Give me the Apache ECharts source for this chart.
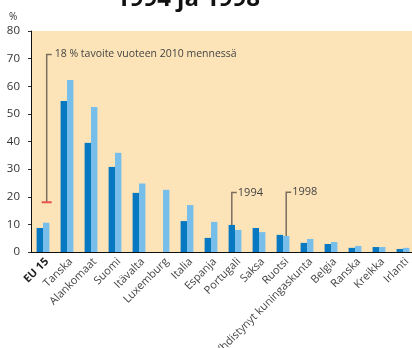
<!DOCTYPE html>
<html>
<head>
<meta charset="utf-8">
<script src="https://cdn.jsdelivr.net/npm/echarts@6/dist/echarts.min.js"></script>
<style>
html,body{margin:0;padding:0;background:#fff;}
#c{width:412px;height:348px;}
</style>
</head>
<body>
<div id="c"></div>
<script>
const categories = ['EU 15','Tanska','Alankomaat','Suomi','Itävalta','Luxemburg','Italia','Espanja','Portugali','Saksa','Ruotsi','Yhdistynyt kuningaskunta','Belgia','Ranska','Kreikka','Irlanti'];
const values1994 = [8.7, 54.7, 39.5, 30.8, 21.4, 0, 11.2, 5.1, 9.8, 8.7, 6.2, 3.3, 2.9, 1.5, 1.8, 1.1];
const values1998 = [10.6, 62.3, 52.5, 35.9, 24.8, 22.5, 17.0, 10.9, 8.0, 7.2, 5.8, 4.7, 3.6, 2.2, 1.8, 1.5];
const yTicks = {min: 0, max: 80, interval: 10};
const targetValue = 18;
const annoCategory = ['EU 15', 'Portugali', 'Ruotsi'];
const annoFrom = [18, 9.8, 5.8];
const annoTo = [71.5, 21.5, 21.6];
const annoText = ['18 % tavoite vuoteen 2010 mennessä', '1994', '1998'];
const annoSide = [1, -1, 1];

const FONT = 'Open Sans';
const BAR_W = 6.4;
const chart = echarts.init(document.getElementById('c'), null, {renderer: 'canvas'});

const annoData = annoCategory.map((c, i) => [categories.indexOf(c), annoFrom[i], annoTo[i], i]);

chart.setOption({
  animation: false,
  textStyle: {fontFamily: FONT},
  grid: {left: 31, right: -3, top: 31, bottom: 96, show: true, backgroundColor: '#FDE4B8', borderWidth: 0, containLabel: false, outerBoundsMode: 'none'},
  graphic: [
    {type: 'text', style: {text: '1994 ja 1998', x: 188, y: -1, align: 'center', verticalAlign: 'middle', font: 'bold 24px "Open Sans"', fill: '#111'}},
    {type: 'text', style: {text: '%', x: 9, y: 17, verticalAlign: 'middle', font: '10px "Open Sans"', fill: '#333'}}
  ],
  xAxis: {
    type: 'category',
    data: categories,
    axisLine: {lineStyle: {color: '#111', width: 1}},
    axisTick: {length: 4, lineStyle: {color: '#333'}},
    axisLabel: {
      interval: 0, rotate: 45, margin: 4, fontSize: 11, color: '#444', fontFamily: FONT,
      verticalAlign: 'top',
      formatter: v => v === 'EU 15' ? '{b|' + v + '}' : v,
      rich: {b: {fontWeight: 'bold', color: '#222', fontSize: 11, fontFamily: FONT}}
    }
  },
  yAxis: {
    type: 'value', min: yTicks.min, max: yTicks.max, interval: yTicks.interval,
    axisLine: {show: true, lineStyle: {color: '#111', width: 1}},
    axisTick: {show: true, length: 3, lineStyle: {color: '#333'}},
    splitLine: {show: false},
    axisLabel: {fontSize: 11.5, color: '#333', margin: 11, fontFamily: FONT}
  },
  series: [
    {type: 'bar', name: '1994', data: values1994, barWidth: BAR_W, barGap: '0%', itemStyle: {color: '#0878C1'}},
    {type: 'bar', name: '1998', data: values1998, barWidth: BAR_W, barGap: '0%', itemStyle: {color: '#78BEEA'}},
    {
      type: 'custom', data: annoData, z: 10,
      encode: {x: 0, y: [1, 2]},
      renderItem: function (params, api) {
        const idx = api.value(3);
        const off = annoSide[idx] * BAR_W / 2;
        const p0 = api.coord([api.value(0), api.value(1)]);
        const p1 = api.coord([api.value(0), api.value(2)]);
        const x = p0[0] + off + (idx === 0 ? 0.5 : 0);
        const children = [];
        children.push({type: 'polyline', shape: {points: [[x, p0[1]], [x, p1[1]], [x + 5, p1[1]]]}, style: {stroke: '#7B6E60', lineWidth: 1.5, fill: null}});
        if (idx === 0) {
          const pt = api.coord([api.value(0), targetValue]);
          children.push({type: 'line', shape: {x1: x - 5, y1: pt[1], x2: x + 5, y2: pt[1]}, style: {stroke: '#E8544A', lineWidth: 2}});
        }
        children.push({type: 'text', style: {text: annoText[idx], x: x + (idx === 0 ? 8 : 6), y: p1[1], verticalAlign: 'middle', font: (idx === 0 ? '10.5px' : '11px') + ' "Open Sans"', fill: '#444'}});
        return {type: 'group', children: children};
      }
    }
  ]
});
</script>
</body>
</html>
